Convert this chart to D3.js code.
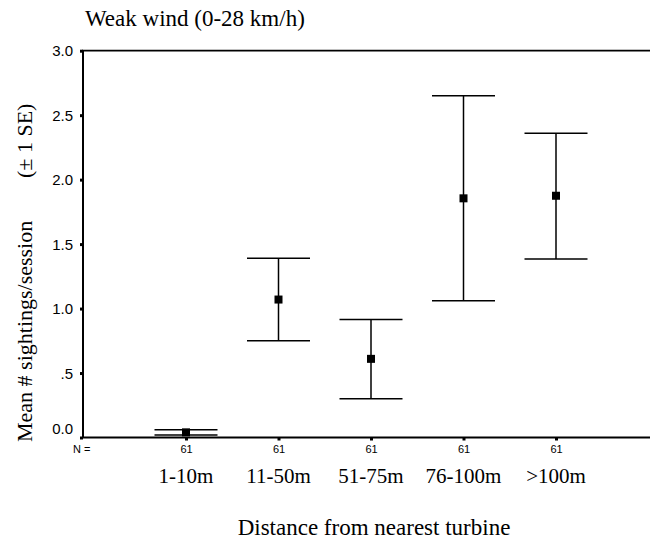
<!DOCTYPE html>
<html>
<head>
<meta charset="utf-8">
<script src="https://cdn.jsdelivr.net/npm/d3@7/dist/d3.min.js"></script>
<style>
  html, body { margin: 0; padding: 0; background: #fff; }
  svg { display: block; }
</style>
</head>
<body>
<svg id="chart" width="650" height="542"></svg>
<script>
// ---- Data ----
const categories = ["1-10m", "11-50m", "51-75m", "76-100m", ">100m"];
const means      = [0.04, 1.07, 0.61, 1.855, 1.875];
const lowers     = [0.02, 0.75, 0.30, 1.06, 1.385];
const uppers     = [0.06, 1.39, 0.915, 2.65, 2.36];
const nValues    = [61, 61, 61, 61, 61];
const yTicks     = [0, 0.5, 1.0, 1.5, 2.0, 2.5, 3.0];
const yTickLabels = ["0.0", ".5", "1.0", "1.5", "2.0", "2.5", "3.0"];
const titleText  = "Weak wind (0-28 km/h)";
const yTitleMain = "Mean # sightings/session";
const yTitleSE   = "(\u00B1 1 SE)";
const xTitleText = "Distance from nearest turbine";

// ---- Layout ----
const svg = d3.select("#chart");
const plotLeft = 83, plotRight = 652, plotTop = 50.7, plotBottom = 437.5;
const serif = "'Liberation Serif', 'Times New Roman', Times, serif";
const sans = "'Liberation Sans', Arial, Helvetica, sans-serif";

const y = d3.scaleLinear().domain([0, 3]).range([plotBottom, plotTop]);
const x = d3.scalePoint().domain(categories).range([186, 556]);

// Frame lines
svg.append("line").attr("x1", plotLeft).attr("x2", plotLeft).attr("y1", plotTop).attr("y2", plotBottom)
  .attr("stroke", "#000").attr("stroke-width", 2);
svg.append("line").attr("x1", plotLeft - 1).attr("x2", plotRight).attr("y1", plotTop).attr("y2", plotTop)
  .attr("stroke", "#000").attr("stroke-width", 1.8);
svg.append("line").attr("x1", plotLeft - 1).attr("x2", plotRight).attr("y1", plotBottom).attr("y2", plotBottom)
  .attr("stroke", "#000").attr("stroke-width", 2);

// Y axis
const yAxis = d3.axisLeft(y)
  .tickValues(yTicks)
  .tickFormat((d, i) => yTickLabels[i])
  .tickSize(3)
  .tickPadding(7);
const gy = svg.append("g").attr("transform", `translate(${plotLeft},0)`).call(yAxis);
gy.select(".domain").remove();
gy.selectAll(".tick line").attr("stroke", "#000").attr("stroke-width", 3);
gy.selectAll(".tick text")
  .attr("font-family", sans).attr("font-size", 15).attr("fill", "#000")
  .attr("dy", d => d === 0 ? "-0.25em" : "0.35em");

// X axis (N labels)
const xAxis = d3.axisBottom(x)
  .tickFormat((d, i) => String(nValues[i]))
  .tickSize(3);
const gx = svg.append("g").attr("transform", `translate(0,${plotBottom})`).call(xAxis);
gx.select(".domain").remove();
gx.selectAll(".tick line").attr("stroke", "#000").attr("stroke-width", 3);
gx.selectAll(".tick text")
  .attr("font-family", sans).attr("font-size", 11).attr("fill", "#000")
  .attr("y", 15.5).attr("dy", "0");

svg.append("text").attr("x", 73).attr("y", plotBottom + 15.5)
  .attr("font-family", sans).attr("font-size", 11).text("N =");

// Category labels
svg.append("g").selectAll("text").data(categories).join("text")
  .attr("x", d => x(d)).attr("y", 483)
  .attr("text-anchor", "middle")
  .attr("font-family", serif).attr("font-size", 21)
  .text(d => d);

// Error bars
const capHalf = 31.5;
const bars = svg.append("g").selectAll("g").data(categories).join("g");
bars.append("line")
  .attr("x1", d => x(d)).attr("x2", d => x(d))
  .attr("y1", (d, i) => y(uppers[i])).attr("y2", (d, i) => y(lowers[i]))
  .attr("stroke", "#000").attr("stroke-width", 1.5);
bars.append("line")
  .attr("x1", d => x(d) - capHalf).attr("x2", d => x(d) + capHalf)
  .attr("y1", (d, i) => y(uppers[i])).attr("y2", (d, i) => y(uppers[i]))
  .attr("stroke", "#000").attr("stroke-width", 1.5);
bars.append("line")
  .attr("x1", d => x(d) - capHalf).attr("x2", d => x(d) + capHalf)
  .attr("y1", (d, i) => y(lowers[i])).attr("y2", (d, i) => y(lowers[i]))
  .attr("stroke", "#000").attr("stroke-width", 1.5);
bars.append("rect")
  .attr("x", d => x(d) - 4).attr("y", (d, i) => y(means[i]) - 4)
  .attr("width", 8).attr("height", 8).attr("fill", "#000");

// Titles
svg.append("text").attr("x", 85).attr("y", 26)
  .attr("font-family", serif).attr("font-size", 23).text(titleText);

svg.append("text").attr("x", 374).attr("y", 535)
  .attr("text-anchor", "middle")
  .attr("font-family", serif).attr("font-size", 23).text(xTitleText);

const yt = svg.append("text").attr("transform", "translate(32,0) rotate(-90)")
  .attr("font-family", serif).attr("font-size", 22);
yt.append("tspan").attr("x", -442).attr("y", 0).text(yTitleMain);
yt.append("tspan").attr("x", -178).attr("y", 0).text(yTitleSE);
</script>
</body>
</html>
